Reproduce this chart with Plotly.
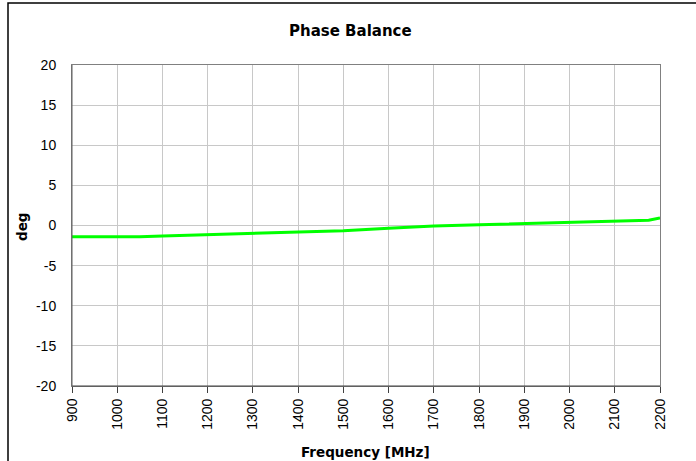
import plotly.graph_objects as go

freq_mhz = [900, 1000, 1050, 1100, 1200, 1300, 1400, 1500, 1600, 1700, 1800, 1900, 2000, 2100, 2175, 2200]
phase_deg = [-1.4, -1.4, -1.4, -1.3, -1.15, -1.0, -0.85, -0.65, -0.35, -0.05, 0.1, 0.25, 0.4, 0.55, 0.65, 0.95]
x_ticks = list(range(900, 2201, 100))
y_ticks = list(range(-20, 21, 5))
y_tick_text = [str(v) for v in y_ticks]

W, H = 696, 461
L, R, T, B = 72, 660, 65, 386

fig = go.Figure()
fig.add_trace(go.Scatter(x=freq_mhz, y=phase_deg, mode="lines",
                         line=dict(color="#00ff00", width=3), showlegend=False))

font = "Liberation Sans, Arial, sans-serif"
tfont = "DejaVu Sans, sans-serif"
fig.update_layout(
    width=W, height=H,
    margin=dict(l=L, r=W - R, t=T, b=H - B),
    paper_bgcolor="white", plot_bgcolor="white",
    font=dict(family=font, size=14, color="black"),
    xaxis=dict(range=[900, 2200], tickvals=x_ticks, ticktext=[str(v) for v in x_ticks],
               tickangle=-90, showgrid=True, gridcolor="#c8c8c8", gridwidth=1,
               showline=True, linecolor="#808080", linewidth=1, mirror=True,
               ticks="outside", ticklen=6, tickcolor="#404040", zeroline=False,
               tickfont=dict(size=14)),
    yaxis=dict(range=[-20, 20], tickvals=y_ticks, ticktext=y_tick_text,
               showgrid=True, gridcolor="#c8c8c8", gridwidth=1,
               showline=True, linecolor="#808080", linewidth=1, mirror=True,
               ticks="", zeroline=False, ticklabelstandoff=12, tickfont=dict(size=14)),
    annotations=[
        dict(text="<b>Phase Balance</b>", xref="paper", yref="paper",
             x=(350 - L) / (R - L), y=(B - 31) / (B - T), showarrow=False,
             font=dict(size=15, family=tfont), xanchor="center", yanchor="middle"),
        dict(text="<b>deg</b>", xref="paper", yref="paper",
             x=(22 - L) / (R - L), y=(B - 227) / (B - T), showarrow=False, textangle=-90,
             font=dict(size=13.5, family=tfont), xanchor="center", yanchor="middle"),
        dict(text="<b>Frequency [MHz]</b>", xref="paper", yref="paper",
             x=(365 - L) / (R - L), y=(B - 452) / (B - T), showarrow=False,
             font=dict(size=13.5, family=tfont), xanchor="center", yanchor="middle"),
    ],
    shapes=[
        dict(type="rect", xref="paper", yref="paper",
             x0=(8 - L) / (R - L), x1=(705 - L) / (R - L),
             y0=(B - 470) / (B - T), y1=(B - 3) / (B - T),
             line=dict(color="black", width=1.5), layer="below"),
        dict(type="line", xref="paper", yref="paper", x0=0, x1=1, y0=0, y1=0,
             line=dict(color="#404040", width=1)),
        dict(type="line", xref="paper", yref="paper", x0=0, x1=0, y0=0, y1=1,
             line=dict(color="#606060", width=1)),
    ],
)

fig.write_html("out.html", config={"displayModeBar": False},
               post_script="document.body.style.margin='0';document.body.style.overflow='hidden';")
